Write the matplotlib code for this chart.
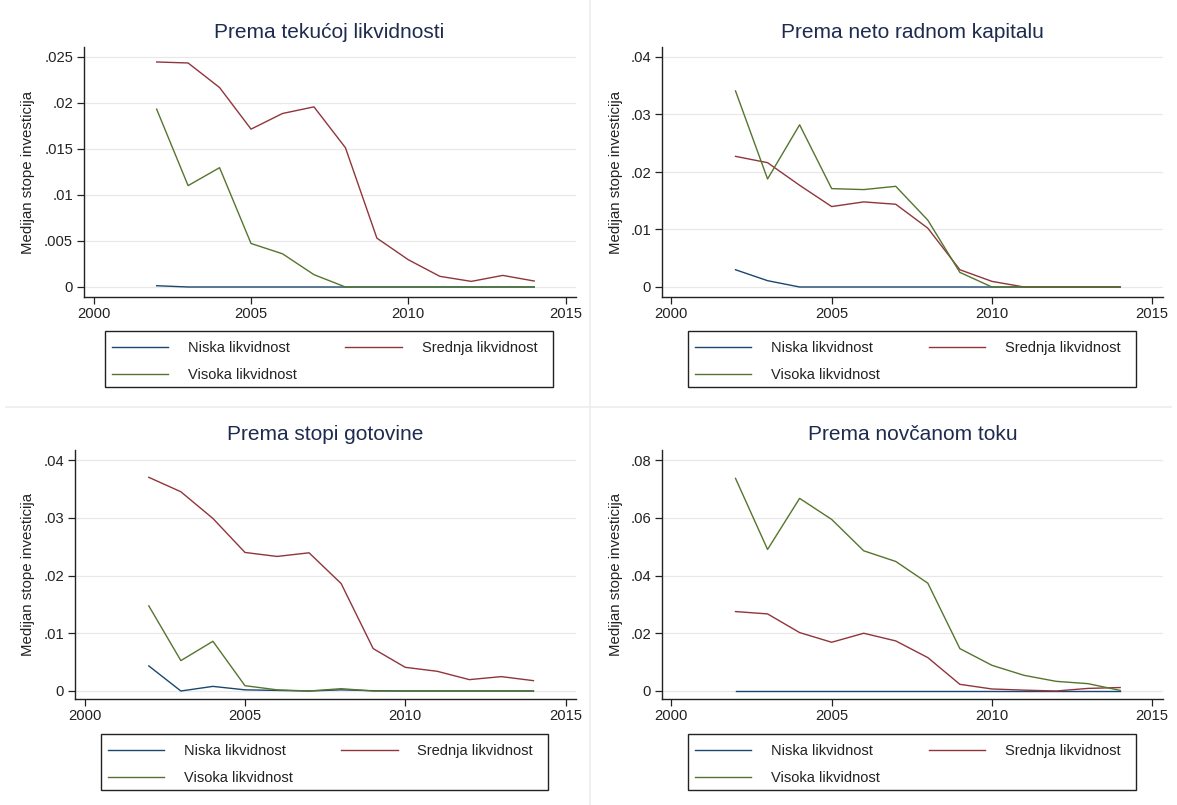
import matplotlib
matplotlib.use("Agg")
import matplotlib.pyplot as plt
from matplotlib.lines import Line2D
from matplotlib.patches import Rectangle

plt.rcParams["font.family"] = ["Liberation Sans", "DejaVu Sans"]

W, H = 1177, 805

years = list(range(2002, 2015))
series_names = ["Niska likvidnost", "Srednja likvidnost", "Visoka likvidnost"]
series_colors = ["#1a476f", "#90353b", "#55752f"]

# Prema tekućoj likvidnosti
tek_niska = [0.00014, 0, 0, 0, 0, 0, 0, 0, 0, 0, 0, 0, 0]
tek_srednja = [0.02446, 0.02435, 0.02168, 0.01716, 0.01886, 0.01958, 0.01514,
               0.00531, 0.00296, 0.00116, 0.00061, 0.00126, 0.00065]
tek_visoka = [0.01933, 0.01102, 0.01297, 0.00473, 0.00361, 0.00134, 0,
              0, 0, 0, 0, 0, 0]

# Prema neto radnom kapitalu
nrk_niska = [0.0030, 0.0011, 0, 0, 0, 0, 0, 0, 0, 0, 0, 0, 0]
nrk_srednja = [0.02272, 0.02162, 0.01769, 0.01399, 0.0148, 0.01439, 0.01023,
               0.0030, 0.00098, 0, 0, 0, 0]
nrk_visoka = [0.0341, 0.01879, 0.02821, 0.01711, 0.01694, 0.01751, 0.01162,
              0.00254, 0, 0, 0, 0, 0]

# Prema stopi gotovine
got_niska = [0.00434, 0, 0.0008, 0.0002, 0.0001, 0, 0.0002, 0.00005, 0, 0, 0, 0, 0]
got_srednja = [0.0370, 0.0345, 0.02988, 0.02399, 0.0233, 0.02393, 0.01861,
               0.00734, 0.0041, 0.00341, 0.00197, 0.00249, 0.00179]
got_visoka = [0.01474, 0.00526, 0.00861, 0.00092, 0.0002, 0, 0.0004,
              0, 0, 0, 0, 0, 0]

# Prema novčanom toku
tok_niska = [0, 0, 0, 0, 0, 0, 0, 0, 0, 0, 0, 0, 0]
tok_srednja = [0.02751, 0.0267, 0.02023, 0.01688, 0.0200, 0.01734, 0.01156,
               0.00231, 0.0007, 0.0003, 0, 0.0009, 0.0012]
tok_visoka = [0.07364, 0.04902, 0.06671, 0.05942, 0.04855, 0.04486, 0.03734,
              0.01468, 0.0089, 0.00543, 0.00335, 0.00254, 0.0002]

titles = ["Prema tekućoj likvidnosti", "Prema neto radnom kapitalu",
          "Prema stopi gotovine", "Prema novčanom toku"]
values = [
    [tek_niska, tek_srednja, tek_visoka],
    [nrk_niska, nrk_srednja, nrk_visoka],
    [got_niska, got_srednja, got_visoka],
    [tok_niska, tok_srednja, tok_visoka],
]
ytick_values = [
    [0, 0.005, 0.01, 0.015, 0.02, 0.025],
    [0, 0.01, 0.02, 0.03, 0.04],
    [0, 0.01, 0.02, 0.03, 0.04],
    [0, 0.02, 0.04, 0.06, 0.08],
]
ytick_labels = [
    ["0", ".005", ".01", ".015", ".02", ".025"],
    ["0", ".01", ".02", ".03", ".04"],
    ["0", ".01", ".02", ".03", ".04"],
    ["0", ".02", ".04", ".06", ".08"],
]
xtick_values = [2000, 2005, 2010, 2015]

# pixel layout per panel: axes box (left, top, right, bottom),
# x of 2000 / 2015 ticks, y of zero / top tick, title centre,
# y-title x centre, legend box
layout = [
    dict(box=(83.5, 47, 576, 297), x0=93.7, x1=565.7, y0=287, y1=57,
         title=(329, 32), ylab=28, leg=(104.6, 331, 553.3, 387)),
    dict(box=(661.6, 47, 1163, 297), x0=671.4, x1=1152.2, y0=287, y1=57,
         title=(912, 32), ylab=616, leg=(688.3, 331, 1135.7, 387)),
    dict(box=(74.5, 450, 576, 699), x0=84.7, x1=565.5, y0=691, y1=460,
         title=(325, 434), ylab=28, leg=(100.5, 734, 548.2, 790)),
    dict(box=(661.6, 450, 1163, 699), x0=671.4, x1=1152.2, y0=691, y1=460,
         title=(912.6, 434), ylab=616, leg=(688.3, 734, 1135.7, 790)),
]

fig = plt.figure(figsize=(W / 100, H / 100), dpi=100)
fig.patch.set_facecolor("white")

# thin borders between the combined graphs
fig.add_artist(Line2D([590 / W, 590 / W], [0, 1], color="#ececec", lw=1.2))
fig.add_artist(Line2D([0.005, 0.995], [1 - 407 / H, 1 - 407 / H],
                      color="#ececec", lw=1.2))

for i in range(4):
    lay = layout[i]
    left, top, right, bottom = lay["box"]
    ax = fig.add_axes([left / W, 1 - bottom / H, (right - left) / W,
                       (bottom - top) / H])

    xs = (lay["x1"] - lay["x0"]) / 15.0
    ax.set_xlim(2000 + (left - lay["x0"]) / xs, 2000 + (right - lay["x0"]) / xs)
    ytop = ytick_values[i][-1]
    ys = (lay["y0"] - lay["y1"]) / ytop
    ax.set_ylim((lay["y0"] - bottom) / ys, (lay["y0"] - top) / ys)

    handles = []
    for k in range(3):
        (ln,) = ax.plot(years, values[i][k], color=series_colors[k], lw=1.0,
                        label=series_names[k])
        handles.append(ln)

    ax.set_yticks(ytick_values[i])
    ax.set_yticklabels(ytick_labels[i])
    ax.set_xticks(xtick_values)
    ax.set_xticklabels([str(v) for v in xtick_values])
    ax.tick_params(axis="both", direction="out", length=5, width=0.9,
                   labelsize=10.6, colors="#222222", pad=2.5)
    ax.grid(axis="y", color="#e8e8e8", lw=0.9)
    ax.set_axisbelow(True)
    for side in ("top", "right"):
        ax.spines[side].set_visible(False)
    for side in ("left", "bottom"):
        ax.spines[side].set_linewidth(1.0)
        ax.spines[side].set_color("#222222")

    ax.set_ylabel("Medijan stope investicija", fontsize=10.8, color="#222222",
                  va="center")
    ax.yaxis.set_label_coords((lay["ylab"] - left) / (right - left), 0.5)

    tx, ty = lay["title"]
    fig.text(tx / W, 1 - ty / H, titles[i], fontsize=15,
             color="#1e2b4f", ha="center", va="center")

    # legend box, with the entries laid out in two columns inside it
    lx0, ly0, lx1, ly1 = lay["leg"]
    fig.add_artist(Rectangle((lx0 / W, 1 - ly1 / H), (lx1 - lx0) / W,
                             (ly1 - ly0) / H, transform=fig.transFigure,
                             facecolor="none", edgecolor="#222222", lw=1.0))
    order = [handles[0], handles[2], handles[1]]
    leg = ax.legend(order, [h.get_label() for h in order], ncol=2,
                    loc="upper left",
                    bbox_to_anchor=(lx0 / W, 1 - (ly0 + 3) / H),
                    bbox_transform=fig.transFigure, fontsize=10.5,
                    frameon=False, handlelength=3.85, handletextpad=1.37,
                    labelspacing=0.92, borderpad=0.48, borderaxespad=0,
                    columnspacing=3.35)
    for txt in leg.get_texts():
        txt.set_color("#222222")

fig.savefig("out.png", dpi=100, facecolor="white")
